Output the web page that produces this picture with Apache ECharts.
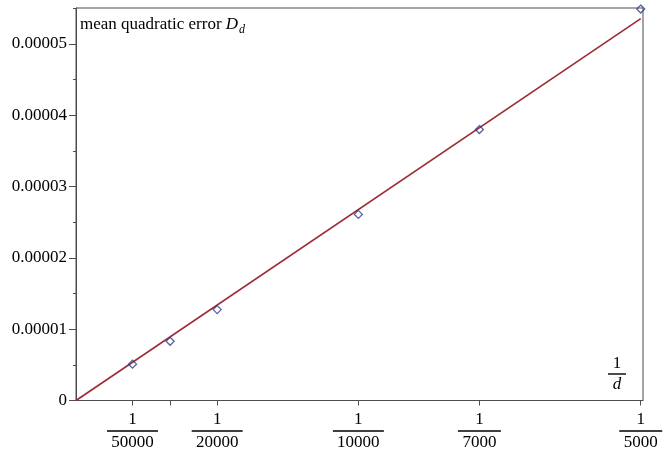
<!DOCTYPE html>
<html>
<head>
<meta charset="utf-8">
<script src="https://cdn.jsdelivr.net/npm/echarts@6/dist/echarts.min.js"></script>
<style>
html,body{margin:0;padding:0;background:#fff;}
#chart{width:670px;height:453px;}
</style>
</head>
<body>
<div id="chart"></div>
<script>
// ---- data ----
var pointDenominators = [50000, 30000, 20000, 10000, 7000, 5000];
var pointErrors = [0.0000051, 0.0000083, 0.00001275, 0.0000261, 0.0000380, 0.0000549];
var fitX = [0, 0.0002];
var fitY = [0, 0.00005355];
var xLabelDenominators = [50000, 20000, 10000, 7000, 5000];
var yTickValues = [0, 0.00001, 0.00002, 0.00003, 0.00004, 0.00005];
var yMinorTickValues = [0.000005, 0.000015, 0.000025, 0.000035, 0.000045, 0.000055];
var titleText = 'mean quadratic error ';
var titleSymbol = 'D';
var titleSub = 'd';

// ---- build ----
var pointX = pointDenominators.map(function (d) { return 1 / d; });
var xLabelValues = xLabelDenominators.map(function (d) { return 1 / d; });
var scatterData = pointX.map(function (x, i) { return [x, pointErrors[i]]; });
var lineData = fitX.map(function (x, i) { return [x, fitY[i]]; });

var FONT = '"Liberation Serif", "Times New Roman", serif';
var AXIS_COLOR = '#4d4d4d';

var chart = echarts.init(document.getElementById('chart'), null, {renderer: 'canvas'});
chart.setOption({
  animation: false,
  backgroundColor: '#fff',
  textStyle: {fontFamily: FONT},
  title: [{
    text: '{a|' + titleText + '}{D|' + titleSymbol + '}{s|' + titleSub + '}',
    left: 80, top: 16, padding: 0,
    textStyle: {
      fontWeight: 'normal',
      rich: {
        a: {fontFamily: FONT, fontSize: 17, fontWeight: 'normal', color: '#000', lineHeight: 18},
        D: {fontFamily: FONT, fontSize: 17, fontWeight: 'normal', fontStyle: 'italic', color: '#000', lineHeight: 18},
        s: {fontFamily: FONT, fontSize: 12, fontWeight: 'normal', fontStyle: 'italic', color: '#000', lineHeight: 18, padding: [9, 0, 0, 1]}
      }
    }
  }, {
    text: '{n|1}\n{bar| }\n{d|d}',
    left: 617, top: 355.5, padding: 0, textAlign: 'center',
    textStyle: {
      fontWeight: 'normal',
      rich: {
        n: {fontFamily: FONT, fontSize: 17, fontWeight: 'normal', color: '#000', lineHeight: 16, align: 'center'},
        bar: {width: 18, height: 1.4, lineHeight: 5, backgroundColor: '#000', align: 'center'},
        d: {fontFamily: FONT, fontSize: 17, fontWeight: 'normal', fontStyle: 'italic', color: '#000', lineHeight: 17, align: 'center'}
      }
    }
  }],
  grid: {left: 76, right: 27, top: 8, bottom: 52.5, show: true, borderColor: AXIS_COLOR, borderWidth: 1, backgroundColor: 'transparent'},
  xAxis: {
    type: 'value', min: 0, max: 0.0002008,
    splitLine: {show: false},
    axisLine: {show: true, onZero: false, lineStyle: {color: AXIS_COLOR, width: 1}},
    axisTick: {show: true, length: 5, customValues: pointX, lineStyle: {color: AXIS_COLOR}},
    axisLabel: {
      show: true, margin: 10, customValues: xLabelValues,
      formatter: function (v) {
        var d = String(Math.round(1 / v));
        var bar = d.length >= 5 ? 'bar5' : 'bar4';
        return '{n|1}\n{' + bar + '| }\n{d|' + d + '}';
      },
      rich: {
        n: {fontFamily: FONT, fontSize: 17, color: '#000', lineHeight: 18, align: 'center'},
        bar5: {width: 51, height: 1.4, lineHeight: 5, backgroundColor: '#000', align: 'center'},
        bar4: {width: 43, height: 1.4, lineHeight: 5, backgroundColor: '#000', align: 'center'},
        d: {fontFamily: FONT, fontSize: 17, color: '#000', lineHeight: 18, align: 'center'}
      }
    }
  },
  yAxis: [{
    type: 'value', min: 0, max: 0.00005505, interval: 0.00001,
    splitLine: {show: false},
    axisLine: {show: true, onZero: false, lineStyle: {color: AXIS_COLOR, width: 1}},
    axisTick: {show: true, length: 7, customValues: yTickValues, lineStyle: {color: AXIS_COLOR}},
    axisLabel: {
      show: true, margin: 9, customValues: yTickValues,
      fontFamily: FONT, fontSize: 17, color: '#000',
      formatter: function (v) { return v === 0 ? '0' : v.toFixed(5); }
    }
  }, {
    type: 'value', min: 0, max: 0.00005505, interval: 0.00001, position: 'left', offset: 0,
    splitLine: {show: false},
    axisLine: {show: false},
    axisTick: {show: true, length: 3, customValues: yMinorTickValues, lineStyle: {color: AXIS_COLOR}},
    axisLabel: {show: false}
  }],
  series: [{
    type: 'line', data: lineData, showSymbol: false, symbol: 'none',
    lineStyle: {color: '#9c2b35', width: 1.6}, z: 2
  }, {
    type: 'scatter', data: scatterData, symbol: 'diamond', symbolSize: 8,
    itemStyle: {color: 'rgba(255,255,255,0)', borderColor: '#2c3b85', borderWidth: 1.3}, z: 3
  }]
});
</script>
</body>
</html>
